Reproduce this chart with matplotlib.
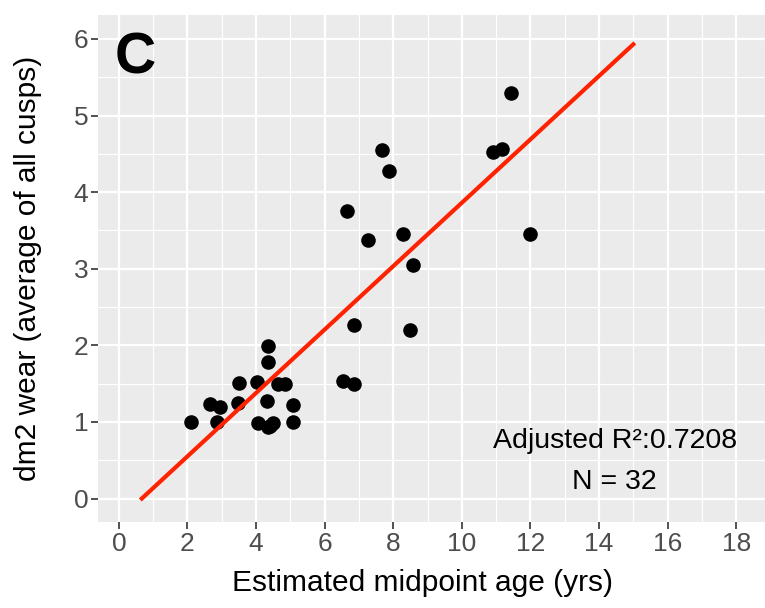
import matplotlib.pyplot as plt
import numpy as np

# estimated midpoint age (yrs) vs dm2 wear
age = [2.09, 2.65, 2.94, 2.87, 3.51, 3.46, 4.03, 4.36, 4.36, 4.31, 4.06, 4.35, 4.50,
       4.64, 4.84, 5.08, 5.08, 4.40, 6.53, 6.85, 6.66, 6.86, 7.27, 7.66, 7.88, 8.29,
       8.58, 8.50, 10.91, 11.16, 11.43, 12.00]
wear = [1.00, 1.24, 1.19, 1.00, 1.51, 1.25, 1.52, 1.99, 1.78, 1.27, 0.98, 0.93, 0.98,
        1.49, 1.49, 1.22, 1.00, 0.95, 1.53, 1.50, 3.76, 2.26, 3.37, 4.55, 4.27, 3.45,
        3.05, 2.20, 4.52, 4.56, 5.29, 3.46]

fit_x = [0.67, 15.0]
fit_y = [0.0, 5.93]

xticks = np.arange(0, 19, 2)
yticks = np.arange(0, 7, 1)

plt.rcParams['font.family'] = ['Liberation Sans', 'DejaVu Sans']

fig = plt.figure(figsize=(7.65, 6.08), dpi=100)

ax = fig.add_axes([0.128, 0.141, 0.872, 0.834])
ax.set_facecolor("#EBEBEB")
for s in ax.spines.values():
    s.set_visible(False)

ax.set_xlim(-0.61, 18.84)
ax.set_ylim(-0.31, 6.31)
ax.set_xticks(xticks)
ax.set_yticks(yticks)
ax.set_xticks(np.arange(1, 19, 2), minor=True)
ax.set_yticks(np.arange(0.5, 6.5, 1), minor=True)
ax.grid(which="major", color="white", linewidth=1.6)
ax.grid(which="minor", color="white", linewidth=0.8)
ax.set_axisbelow(True)
ax.tick_params(which="major", length=5, color="#333333", labelsize=19,
               labelcolor="#4d4d4d", width=1.2, pad=2)
ax.tick_params(which="minor", length=0)

ax.scatter(age, wear, s=110, color="black", zorder=3, linewidths=0)
ax.plot(fit_x, fit_y, color="#FF2200", linewidth=3, zorder=4)

ax.text(0.47, 5.74, "C", fontsize=41, fontweight="bold", ha="center", va="center")
ax.text(14.46, 0.745, "Adjusted R²:0.7208", fontsize=20.5, ha="center", va="center")
ax.text(14.46, 0.22, "N = 32", fontsize=20.5, ha="center", va="center")

ax.set_xlabel("Estimated midpoint age (yrs)", fontsize=21.5, va="center")
ax.set_ylabel("dm2 wear (average of all cusps)", fontsize=21.5, va="center")
ax.xaxis.set_label_coords(0.486, -0.12)
ax.yaxis.set_label_coords(-0.105, 0.5)

fig.savefig("out.png", dpi=100)
